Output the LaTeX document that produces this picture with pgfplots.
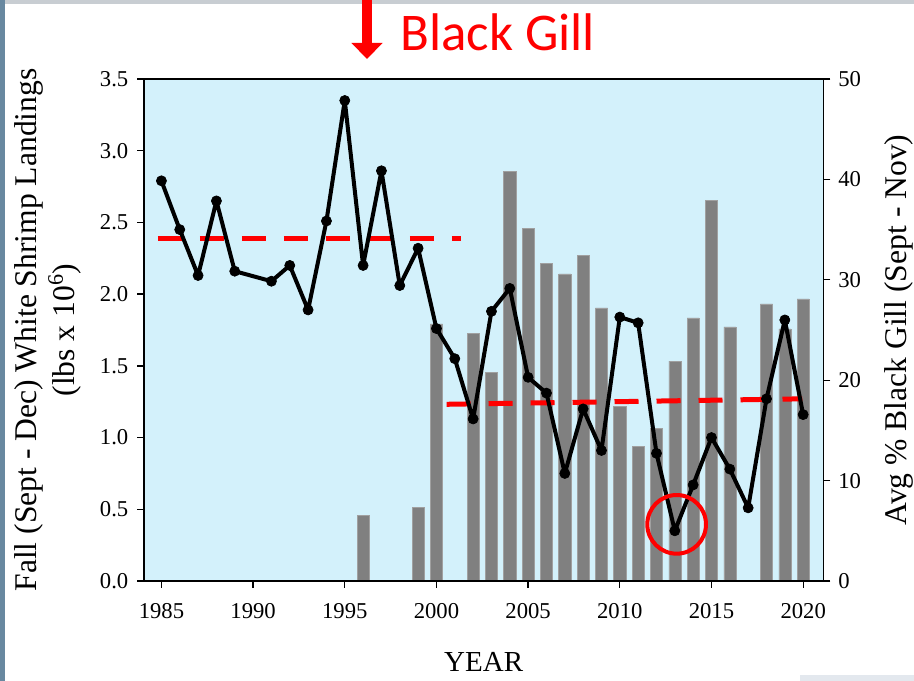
\documentclass[border=0pt]{standalone}
\usepackage{pgfplots}
\pgfplotsset{compat=1.18}
\usepackage{fontspec}
\setmainfont{Liberation Serif}
\newfontfamily\calibri{Carlito}
\definecolor{bgblue}{RGB}{211,241,251}
\definecolor{bargray}{RGB}{128,128,128}
\definecolor{baredge}{RGB}{160,160,160}
\definecolor{stripblue}{RGB}{104,136,160}
\definecolor{stripgray}{RGB}{200,205,210}
\definecolor{boxgray}{RGB}{227,232,238}

\begin{document}
\begin{tikzpicture}
\useasboundingbox (-108pt,-75pt) rectangle (577.5pt,435.75pt);
\fill[white] (-108pt,-75pt) rectangle (577.5pt,435.75pt);
\fill[stripgray] (-108pt,432.5pt) rectangle (577.5pt,435.75pt);
\fill[stripblue] (-108pt,-75pt) rectangle (-104.25pt,435.75pt);
\fill[boxgray] (492pt,-75pt) rectangle (577.5pt,-70.5pt);

% right axis: black gill bars
\begin{axis}[
  scale only axis, width=509.5pt, height=376.5pt,
  at={(0pt,0pt)}, anchor=south west,
  xmin=1984.05, xmax=2021.1, ymin=0, ymax=50,
  axis background/.style={fill=bgblue},
  axis line style={line width=1.1pt},
  ybar, bar width=0.66,
  xtick=\empty,
  ytick={0,10,20,30,40,50},
  ytick pos=right, yticklabel pos=right,
  tick align=outside,
  major tick length=5.25pt,
  every tick/.style={black, line width=1pt},
  tick label style={font=\fontsize{17}{20}\selectfont},
  /pgf/number format/assume math mode=true,
  yticklabel style={xshift=2.5pt},
  ylabel={Avg \% Black Gill (Sept - Nov)},
  ylabel style={font=\fontsize{23.7}{28}\selectfont, at={([xshift=57pt]axis description cs:1,0.5)}, anchor=center},
]
\addplot[fill=bargray, draw=baredge, line width=0.4pt] coordinates {
(1996,6.5) (1999,7.3) (2000,25.6) (2002,24.7) (2003,20.8) (2004,40.8)
(2005,35.1) (2006,31.6) (2007,30.6) (2008,32.4) (2009,27.2) (2010,17.4)
(2011,13.4) (2012,15.2) (2013,21.9) (2014,26.2) (2015,37.9) (2016,25.3)
(2018,27.6) (2019,25.1) (2020,28.1)};
\end{axis}

% left axis: landings
\begin{axis}[
  scale only axis, width=509.5pt, height=376.5pt,
  at={(0pt,0pt)}, anchor=south west,
  xmin=1984.05, xmax=2021.1, ymin=0, ymax=3.5,
  axis line style={line width=1.1pt},
  xtick={1985,1990,1995,2000,2005,2010,2015,2020},
  xtick pos=bottom,
  ytick={0,0.5,1,1.5,2,2.5,3,3.5},
  ytick pos=left,
  tick align=outside,
  major tick length=5.25pt,
  every tick/.style={black, line width=1pt},
  tick label style={font=\fontsize{17}{20}\selectfont},
  /pgf/number format/assume math mode=true,
  yticklabel style={/pgf/number format/.cd, fixed, fixed zerofill, precision=1, /tikz/.cd, xshift=-3pt},
  xticklabel style={/pgf/number format/1000 sep={}, yshift=-8pt},
  xlabel={YEAR},
  xlabel style={font=\fontsize{21.75}{26}\selectfont, at={([yshift=-61pt]axis description cs:0.5,0)}, anchor=center},
  ylabel={Fall (Sept - Dec) White Shrimp Landings\\(lbs x 10\textsuperscript{6})},
  ylabel style={font=\fontsize{23.7}{29}\selectfont, align=center, at={([xshift=-72pt]axis description cs:0,0.5)}, anchor=center},
]
\addplot[red, line width=3.75pt, dash pattern=on 18pt off 13.5pt] coordinates {(1984.81,2.39) (2001.33,2.39)};
\addplot[red, line width=3.75pt, dash pattern=on 18pt off 13.5pt] coordinates {(2000.55,1.232) (2019.95,1.27)};
\addplot[black, line width=3pt, line join=round, mark=*, mark size=3.8pt, mark options={fill=black, line width=0.5pt}] coordinates {
(1985,2.79) (1986,2.45) (1987,2.13) (1988,2.65) (1989,2.16) (1991,2.09)
(1992,2.20) (1993,1.89) (1994,2.51) (1995,3.35) (1996,2.20) (1997,2.86)
(1998,2.06) (1999,2.32) (2000,1.76) (2001,1.55) (2002,1.13) (2003,1.88)
(2004,2.04) (2005,1.42) (2006,1.31) (2007,0.75) (2008,1.20) (2009,0.91)
(2010,1.84) (2011,1.80) (2012,0.89) (2013,0.35) (2014,0.67) (2015,1.00)
(2016,0.78) (2017,0.51) (2018,1.27) (2019,1.82) (2020,1.16)};
\draw[red, line width=3pt] (axis cs:2013.1,0.395) circle[radius=22pt];
\end{axis}

% Black Gill annotation
\fill[red] (163.3pt,435.75pt) rectangle (171.2pt,403.5pt);
\fill[red] (155.6pt,403.5pt) -- (178.9pt,403.5pt) -- (167.25pt,391.5pt) -- cycle;
\node[anchor=base west, inner sep=0pt, text=red, font=\calibri\fontsize{39.75}{45}\selectfont] at (192pt,397.5pt) {Black Gill};
\end{tikzpicture}
\end{document}
